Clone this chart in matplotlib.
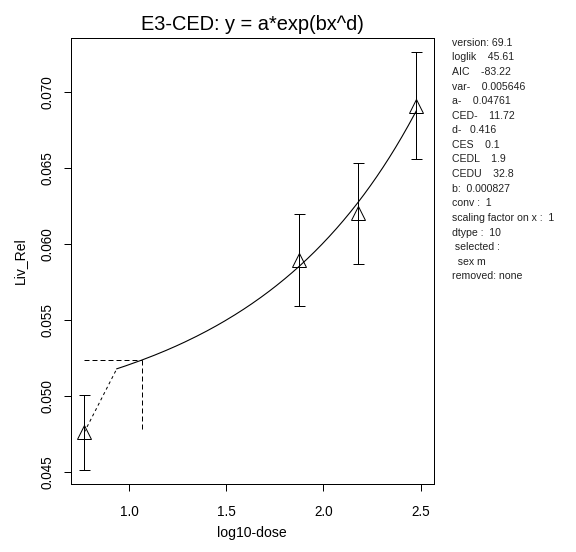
import numpy as np
import matplotlib
matplotlib.use("Agg")
import matplotlib.pyplot as plt

plt.rcParams['font.family'] = ['Liberation Sans', 'DejaVu Sans']

# observed group means (log10 dose) with confidence bars
log_dose = [0.77, 1.875, 2.176, 2.477]
mean_y = [0.0476, 0.05895, 0.0620, 0.06908]
lower_y = [0.04515, 0.05594, 0.05868, 0.06557]
upper_y = [0.05005, 0.06195, 0.06533, 0.07259]

# fitted model parameters y = a*exp(b*x^d)
a_par = 0.04761
d_par = 0.416
ced = 11.72
ces = 0.1
b_par = np.log(1 + ces) / ced ** d_par
dose_max = 300.0
dose_kink = 8.65  # first grid dose after 0 in the plotted curve
ced_level = a_par * (1 + ces)

info_lines = ["version: 69.1", "loglik    45.61", "AIC    -83.22", "var-    0.005646",
              "a-    0.04761", "CED-    11.72", "d-   0.416", "CES    0.1", "CEDL    1.9",
              "CEDU    32.8", "b:  0.000827", "conv :  1", "scaling factor on x :  1",
              "dtype :  10", " selected :", "  sex m", "removed: none"]


def model(x):
    return a_par * np.exp(b_par * x ** d_par)


fig = plt.figure(figsize=(8, 552 / 72), dpi=72)
ax = fig.add_axes([0.1227, 0.1232, 0.6303, 0.808])

dose = np.linspace(dose_kink, dose_max, 300)
ax.plot(np.log10(dose), model(dose), color='black', lw=1.1)
ax.plot([log_dose[0], np.log10(dose_kink)], [a_par, model(dose_kink)], color='black',
        lw=1, dashes=(3, 3))
ax.plot([log_dose[0], np.log10(ced)], [ced_level, ced_level], color='black', lw=1, dashes=(5, 3))
ax.plot([np.log10(ced), np.log10(ced)], [ced_level, a_par], color='black', lw=1, dashes=(5, 3))

yerr = [np.array(mean_y) - np.array(lower_y), np.array(upper_y) - np.array(mean_y)]
ax.errorbar(log_dose, mean_y, yerr=yerr, fmt='none', ecolor='black', elinewidth=1,
            capsize=5.5, capthick=1)
ax.plot(log_dose, mean_y, '^', ms=14, mfc='none', mec='black', mew=1)

ax.set_xlim(0.70, 2.567)
ax.set_ylim(0.04421, 0.07353)
ax.set_xticks([1.0, 1.5, 2.0, 2.5])
ax.set_yticks([0.045, 0.050, 0.055, 0.060, 0.065, 0.070])
ax.set_yticklabels(['0.045', '0.050', '0.055', '0.060', '0.065', '0.070'], rotation=90, va='center')
ax.tick_params(direction='out', length=7, width=1, labelsize=13.5)
ax.tick_params(axis='x', pad=14)
ax.tick_params(axis='y', pad=9)
for s in ax.spines.values():
    s.set_linewidth(1)

ax.set_xlabel('log10-dose', fontsize=14, labelpad=7)
ax.set_ylabel('Liv_Rel', fontsize=14, labelpad=14)
ax.set_title('E3-CED: y = a*exp(bx^d)', fontsize=20, pad=8)

for i, line in enumerate(info_lines):
    fig.text(452 / 576, 1 - (42.7 + i * 14.6) / 552, line, fontsize=10.5, va='center',
             ha='left', color='#222222')

fig.savefig('out.png', dpi=72)
